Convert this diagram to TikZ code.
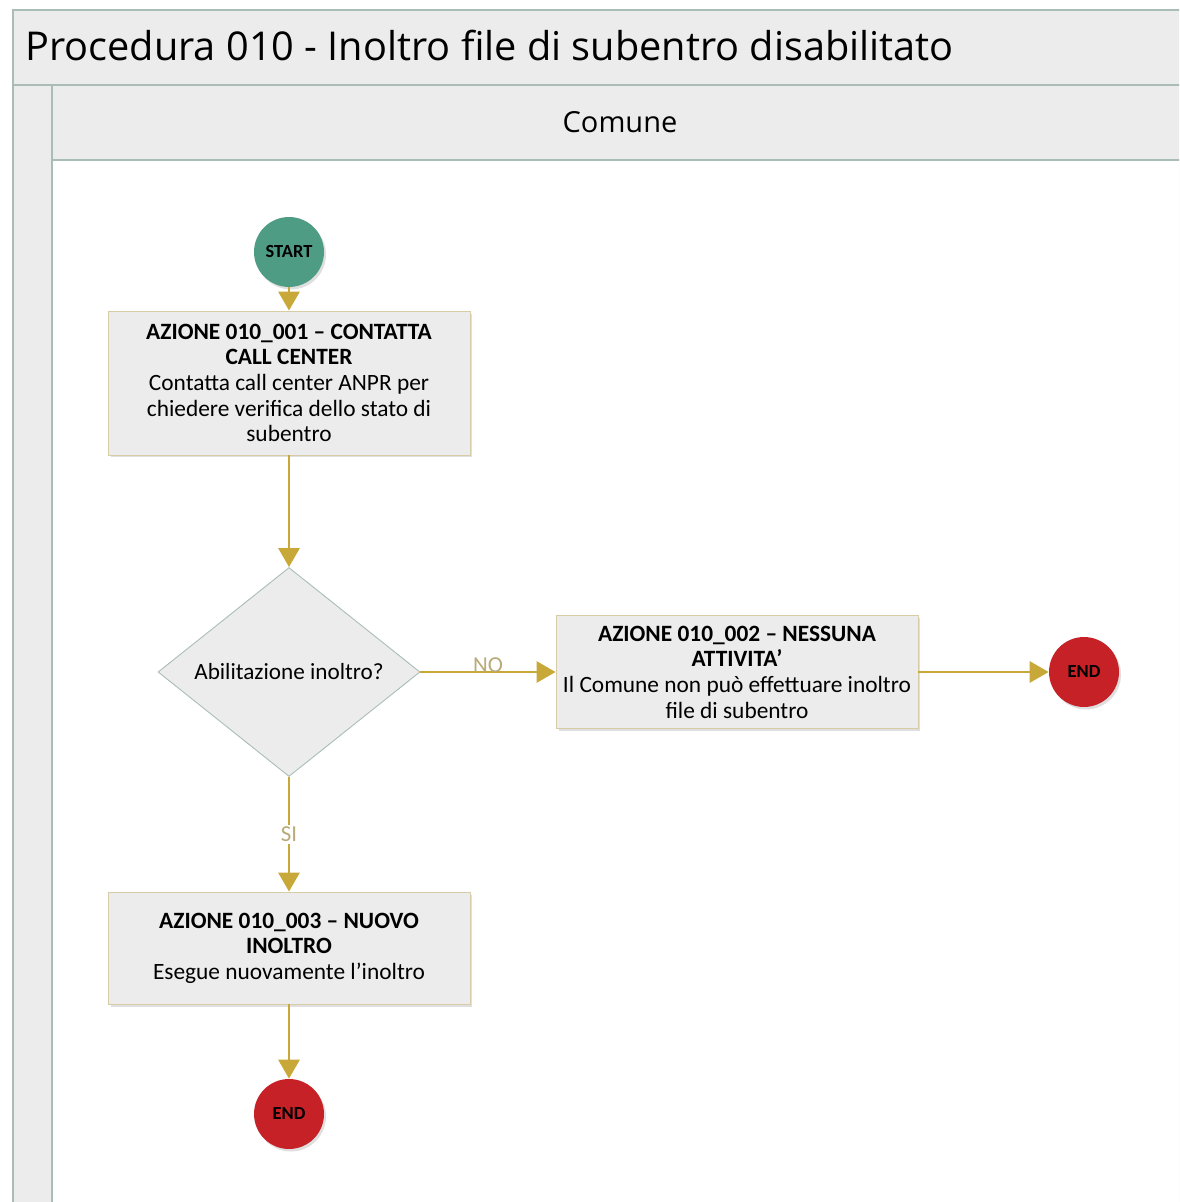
\documentclass[tikz,border=0pt]{standalone}
\usepackage{fontspec}
\setmainfont{Carlito}
\newfontfamily\headfont{Open Sans}
\usetikzlibrary{shapes.geometric,arrows.meta,shadows}

\definecolor{frameline}{HTML}{A9BDB6}
\definecolor{bandgray}{HTML}{ECECEC}
\definecolor{boxline}{HTML}{D6CDA6}
\definecolor{flowgold}{HTML}{C9A83A}
\definecolor{labelgold}{HTML}{B9AB78}
\definecolor{startgreen}{HTML}{4F9C84}
\definecolor{endred}{HTML}{C62127}

\begin{document}
\begin{tikzpicture}[x=0.02cm,y=-0.02cm,
	azione/.style={rectangle, draw=boxline, fill=bandgray, line width=0.5pt,
		minimum width=7.24cm, align=center, font=\fontsize{13.3}{14.6}\selectfont,
		drop shadow={opacity=0.25, shadow xshift=0.05cm, shadow yshift=-0.05cm}},
	scelta/.style={diamond, draw=frameline, fill=bandgray, line width=0.5pt,
		minimum width=5.24cm, minimum height=4.18cm, inner sep=0pt, aspect=1.25,
		font=\fontsize{13.2}{15}\selectfont},
	evento/.style={circle, minimum size=1.4cm, inner sep=0pt,
		font=\fontsize{10.5}{12}\selectfont\bfseries,
		drop shadow={opacity=0.25, shadow xshift=0.04cm, shadow yshift=-0.05cm}},
	flusso/.style={draw=flowgold, line width=1.7pt, -{Triangle[length=0.38cm,width=0.42cm]}},
	esito/.style={text=labelgold, font=\fontsize{13}{15}\selectfont}]
	\useasboundingbox (0,0) rectangle (1179,1202);
	\clip (0,0) rectangle (1179,1202);
	\fill [white] (0,0) rectangle (1179,1202);

	% Piscina
	\draw [frameline, fill=bandgray, line width=1pt] (13,10) rectangle (1200,1220);
	\node [anchor=west, inner sep=0pt, font=\headfont\fontsize{22.6}{26}\selectfont] (titolo) at (25,46) {Procedura 010 - Inoltro file di subentro disabilitato};
	\draw [frameline, line width=1pt] (13,85) -- (1200,85);

	% Corsia Comune
	\fill [white] (52,160) rectangle (1200,1220);
	\draw [frameline, line width=1pt] (52,85) -- (52,1220);
	\draw [frameline, line width=1pt] (52,160) -- (1200,160);
	\node [font=\headfont\fontsize{16.5}{19}\selectfont] (corsia) at (620,122) {Comune};

	% Eventi
	\node [evento, fill=startgreen] (start) at (289,252) {START};
	\node [evento, fill=endred] (fineA) at (1084,672) {END};
	\node [evento, fill=endred] (fineB) at (289,1114) {END};

	% Azioni
	\node [azione, minimum height=2.88cm] (az1) at (289,383)
		{\textbf{AZIONE 010\_001 – CONTATTA}\\ \textbf{CALL CENTER}\\ Contatta call center ANPR per\\ chiedere verifica dello stato di\\ subentro};
	\node [scelta] (abil) at (289,672) {Abilitazione inoltro?};
	\node [azione, minimum height=2.26cm] (az2) at (737,672)
		{\textbf{AZIONE 010\_002 – NESSUNA}\\ \textbf{ATTIVITA’}\\ Il Comune non può effettuare inoltro\\ file di subentro};
	\node [azione, minimum height=2.24cm] (az3) at (289,948)
		{\textbf{AZIONE 010\_003 – NUOVO}\\ \textbf{INOLTRO}\\ Esegue nuovamente l’inoltro};

	% Flusso
	\draw [flusso] (start) -- (az1);
	\draw [flusso] (az1) -- (abil);
	\draw [flusso] (abil) -- node [esito, yshift=4pt] {NO} (az2);
	\draw [flusso] (az2) -- (fineA);
	\draw [flusso] (abil) -- node [esito, fill=white, inner sep=1pt] {SI} (az3);
	\draw [flusso] (az3) -- (fineB);
\end{tikzpicture}
\end{document}
